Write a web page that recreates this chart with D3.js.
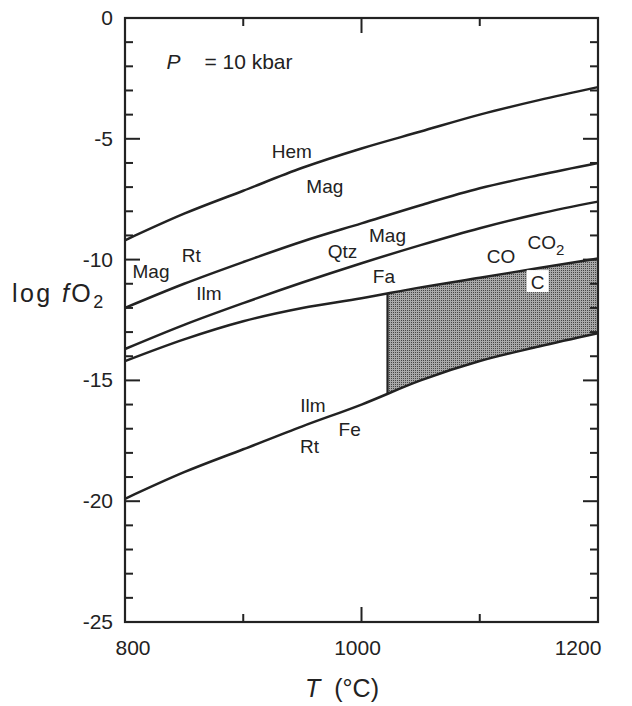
<!DOCTYPE html>
<html>
<head>
<meta charset="utf-8">
<script src="https://cdn.jsdelivr.net/npm/d3@7"></script>
<style>
  body { margin: 0; background: #fff; }
  svg text { font-family: "Liberation Sans", Arial, sans-serif; fill: #222; }
</style>
</head>
<body>
<svg id="chart" width="632" height="706"></svg>
<script>
// temperatures (°C) at which each buffer curve was read
const temps = [800, 850, 900, 950, 1000, 1050, 1100, 1150, 1200];
// log fO2 values of each curve at those temperatures
const hemMag = [-9.2, -8.1, -7.15, -6.2, -5.4, -4.7, -4.0, -3.4, -2.86];
const ilmMagRt = [-12.0, -11.0, -10.1, -9.25, -8.5, -7.75, -7.05, -6.5, -6.0];
const fmq = [-13.7, -12.7, -11.8, -10.95, -10.15, -9.4, -8.7, -8.1, -7.6];
const cco = [-14.2, -13.3, -12.55, -12.0, -11.6, -11.15, -10.75, -10.35, -9.95];
const ilmRtFe = [-19.9, -18.8, -17.85, -16.9, -16.0, -15.0, -14.2, -13.6, -13.05];
// graphite field starts at this temperature
const graphiteStart = 1022;

const xTicksMajor = [800, 1000, 1200];
const xTicksMinor = [900, 1100];
const yTicksMajor = [0, -5, -10, -15, -20, -25];
const yTicksMinor = d3.range(0, -26, -1).filter(v => v % 5 !== 0);

// curve labels: [text, T, log fO2]
const labels = [
  ['Hem', 941, -5.8],
  ['Mag', 969, -7.25],
  ['Mag', 1022, -9.27],
  ['Qtz', 984, -9.93],
  ['Fa', 1019, -10.97],
  ['Mag', 822, -10.76],
  ['Rt', 856, -10.1],
  ['Ilm', 871, -11.67],
  ['CO', 1118, -10.14],
  ['Ilm', 959, -16.31],
  ['Fe', 990, -17.3],
  ['Rt', 956, -18.0]
];

const svg = d3.select('#chart');
const margin = { top: 18, right: 34, bottom: 84, left: 125 };
const width = +svg.attr('width');
const height = +svg.attr('height');
const innerWidth = width - margin.left - margin.right;
const innerHeight = height - margin.top - margin.bottom;

const x = d3.scaleLinear().domain([800, 1200]).range([0, innerWidth]);
const y = d3.scaleLinear().domain([-25, 0]).range([innerHeight, 0]);

const g = svg.append('g').attr('transform', `translate(${margin.left},${margin.top})`);

// stipple pattern for the graphite field
const defs = svg.append('defs');
const pat = defs.append('pattern').attr('id', 'stipple')
  .attr('width', 2).attr('height', 2).attr('patternUnits', 'userSpaceOnUse');
pat.append('rect').attr('width', 2).attr('height', 2).attr('fill', '#a8a8a8');
pat.append('rect').attr('width', 1).attr('height', 1).attr('fill', '#444');

const ccoPts = temps.map((t, i) => ({ t, top: cco[i], bot: ilmRtFe[i] }));
const area = d3.area()
  .x(d => x(d.t)).y0(d => y(d.bot)).y1(d => y(d.top))
  .curve(d3.curveMonotoneX);

defs.append('clipPath').attr('id', 'fieldClip')
  .append('rect')
  .attr('x', x(graphiteStart)).attr('y', 0)
  .attr('width', x(1200) - x(graphiteStart)).attr('height', innerHeight);
defs.append('clipPath').attr('id', 'areaClip')
  .append('path').attr('d', area(ccoPts));

g.append('path')
  .attr('d', area(ccoPts))
  .attr('fill', 'url(#stipple)')
  .attr('clip-path', 'url(#fieldClip)');

g.append('line')
  .attr('x1', x(graphiteStart)).attr('x2', x(graphiteStart))
  .attr('y1', 0).attr('y2', innerHeight)
  .attr('stroke', '#222').attr('stroke-width', 2.2)
  .attr('clip-path', 'url(#areaClip)');

// buffer curves
const line = d3.line().x(d => x(d[0])).y(d => y(d[1])).curve(d3.curveMonotoneX);
[hemMag, ilmMagRt, fmq, cco, ilmRtFe].forEach(vals => {
  g.append('path')
    .datum(temps.map((t, i) => [t, vals[i]]))
    .attr('fill', 'none')
    .attr('stroke', '#222')
    .attr('stroke-width', 2.5)
    .attr('d', line);
});

// frame
g.append('rect')
  .attr('width', innerWidth).attr('height', innerHeight)
  .attr('fill', 'none').attr('stroke', '#222').attr('stroke-width', 2.2);

// ticks (inward on all four sides)
const tickG = g.append('g').attr('stroke', '#222').attr('stroke-width', 2);
yTicksMajor.concat(yTicksMinor).forEach(v => {
  const len = v % 5 === 0 ? 15 : 8;
  tickG.append('line').attr('x1', 0).attr('x2', len).attr('y1', y(v)).attr('y2', y(v));
  tickG.append('line').attr('x1', innerWidth).attr('x2', innerWidth - len).attr('y1', y(v)).attr('y2', y(v));
});
xTicksMajor.concat(xTicksMinor).forEach(t => {
  const len = t === 1000 ? 15 : 8;
  tickG.append('line').attr('x1', x(t)).attr('x2', x(t)).attr('y1', innerHeight).attr('y2', innerHeight - len);
  tickG.append('line').attr('x1', x(t)).attr('x2', x(t)).attr('y1', 0).attr('y2', len);
});

// tick labels
yTicksMajor.forEach(v => {
  g.append('text')
    .attr('x', -12).attr('y', y(v) + 7)
    .attr('text-anchor', 'end')
    .attr('font-size', 21)
    .text(v);
});
xTicksMajor.forEach(t => {
  g.append('text')
    .attr('x', x(t) + (t === 1200 ? -20 : t === 800 ? 8 : -4)).attr('y', innerHeight + 33)
    .attr('text-anchor', 'middle')
    .attr('font-size', 21)
    .text(t);
});

// axis titles
const yTitle = svg.append('text').attr('x', 12).attr('y', 302)
  .attr('font-size', 25).attr('letter-spacing', 2.4);
yTitle.append('tspan').text('log ');
yTitle.append('tspan').attr('font-style', 'italic').text('f');
yTitle.append('tspan').text('O');
yTitle.append('tspan').attr('font-size', 18).attr('dy', 6).text('2');

const xTitle = svg.append('text').attr('x', 342).attr('y', 697)
  .attr('text-anchor', 'middle').attr('font-size', 25);
xTitle.append('tspan').attr('font-style', 'italic').text('T');
xTitle.append('tspan').attr('dx', 14).text('(°C)');

// pressure note
const pText = g.append('text').attr('x', x(835)).attr('y', y(-2.1)).attr('font-size', 21);
pText.append('tspan').attr('font-style', 'italic').text('P');
pText.append('tspan').attr('dx', 24).text('= 10 kbar');

// curve labels
labels.forEach(([txt, t, v]) => {
  g.append('text')
    .attr('x', x(t)).attr('y', y(v))
    .attr('text-anchor', 'middle')
    .attr('font-size', 19)
    .text(txt);
});

// CO2 label with subscript
const co2 = g.append('text').attr('x', x(1156)).attr('y', y(-9.56))
  .attr('text-anchor', 'middle').attr('font-size', 19);
co2.append('tspan').text('CO');
co2.append('tspan').attr('font-size', 15).attr('dy', 6).text('2');

// C label on a white box inside the graphite field
g.append('rect')
  .attr('x', x(1149) - 11).attr('y', y(-11.22) - 19)
  .attr('width', 22).attr('height', 22)
  .attr('fill', '#fff');
g.append('text')
  .attr('x', x(1149)).attr('y', y(-11.22))
  .attr('text-anchor', 'middle').attr('font-size', 19)
  .text('C');
</script>
</body>
</html>
